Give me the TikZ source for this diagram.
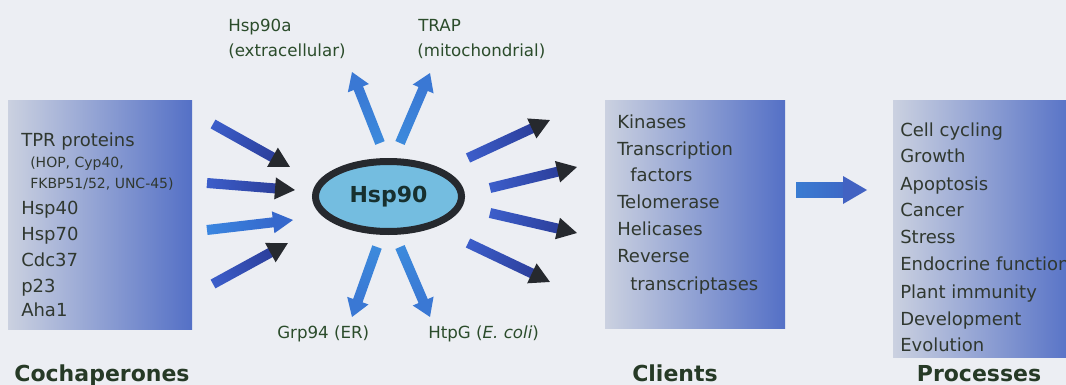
\documentclass[tikz,border=0pt]{standalone}
\usepackage{fontspec}
\setmainfont{DejaVu Sans}
\usetikzlibrary{shapes.geometric}

\definecolor{bg}{HTML}{ECEEF3}
\definecolor{panelL}{HTML}{CBD1E0}
\definecolor{panelM}{HTML}{9FAEDA}
\definecolor{panelR}{HTML}{5470C6}
\definecolor{ink}{HTML}{303830}
\definecolor{headink}{HTML}{263A26}
\definecolor{royalA}{HTML}{3C5ECA}
\definecolor{royalB}{HTML}{2C3F9C}
\definecolor{tipdark}{HTML}{26292E}
\definecolor{skyA}{HTML}{3C8ADC}
\definecolor{skyB}{HTML}{3A78D4}
\definecolor{midA}{HTML}{3A86E0}
\definecolor{midB}{HTML}{3568CC}
\definecolor{bigA}{HTML}{3A7CD2}
\definecolor{bigB}{HTML}{3D68C6}
\definecolor{bighead}{HTML}{4262C2}
\definecolor{hspfill}{HTML}{74BDE0}
\definecolor{hspink}{HTML}{17302F}

% Block arrow from coordinate #1 to coordinate #2:
% #3 shaft style, #4 head style, #5 shaft width, #6 head width, #7 head length
\newcommand\blockarrow[7]{%
  \pgfpointanchor{#1}{center}\pgfgetlastxy{\bax}{\bay}%
  \pgfpointanchor{#2}{center}\pgfgetlastxy{\bbx}{\bby}%
  \pgfmathsetmacro\bang{atan2(\bby-\bay,\bbx-\bax)}%
  \pgfmathsetmacro\blen{veclen(\bbx-\bax,\bby-\bay)}%
  \begin{scope}[transform canvas={shift={(\bax,\bay)},rotate=\bang}]
    \shade[#3] (0pt,-#5/2) rectangle (\blen pt-#7+0.6pt,#5/2);
    \fill[#4] (\blen pt-#7,-#6/2) -- (\blen pt,0pt) -- (\blen pt-#7,#6/2) -- cycle;
  \end{scope}}

\tikzset{
  panel/.style={rectangle, inner sep=0pt, draw=none,
    left color=panelL, middle color=panelM, right color=panelR},
  txt/.style={anchor=base west, inner sep=0pt, text=ink,
    font=\fontsize{13.5}{16}\selectfont},
  small/.style={anchor=base west, inner sep=0pt, text=ink,
    font=\fontsize{10.5}{13}\selectfont},
  lbl/.style={anchor=base west, inner sep=0pt, text=ink!90!green,
    font=\fontsize{12.5}{15}\selectfont},
  heading/.style={anchor=base, inner sep=0pt, text=headink,
    font=\bfseries\fontsize{16.5}{19}\selectfont},
  royalshaft/.style={left color=royalA, right color=royalB},
  darktip/.style={fill=tipdark},
  midshaft/.style={left color=midA, right color=midB},
  midtip/.style={fill=midB},
  skyshaft/.style={left color=skyA, right color=skyB},
  skytip/.style={fill=skyB},
  bigshaft/.style={left color=bigA, right color=bigB},
  bigtip/.style={fill=bighead},
}

\begin{document}
\begin{tikzpicture}[x=0.75pt,y=-0.75pt]
\path[use as bounding box] (0,0) rectangle (1066,385);
\clip (0,0) rectangle (1066,385);
\fill[bg] (0,0) rectangle (1066,385);

% panels
\node[panel, minimum width=138pt, minimum height=171.75pt] (cochap) at (100,214.5) {};
\node[panel, minimum width=135pt, minimum height=171pt] (clients) at (695,214) {};
\node[panel, minimum width=136.5pt, minimum height=192.75pt] (procs) at (984,228.5) {};

% cochaperones
\node[txt] (c1) at (21,146) {TPR proteins};
\node[small] (c1a) at (30,167) {(HOP, Cyp40,};
\node[small] (c1b) at (30,188) {FKBP51/52, UNC-45)};
\node[txt] (c2) at (21,214) {Hsp40};
\node[txt] (c3) at (21,240) {Hsp70};
\node[txt] (c4) at (21,266) {Cdc37};
\node[txt] (c5) at (21,292) {p23};
\node[txt] (c6) at (21,316) {Aha1};

% clients
\node[txt] (k1) at (617,128) {Kinases};
\node[txt] (k2) at (617,155) {Transcription};
\node[txt] (k3) at (630,181) {factors};
\node[txt] (k4) at (617,208) {Telomerase};
\node[txt] (k5) at (617,235) {Helicases};
\node[txt] (k6) at (617,262) {Reverse};
\node[txt] (k7) at (630,290) {transcriptases};

% processes
\node[txt] (p1) at (900,136) {Cell cycling};
\node[txt] (p2) at (900,162) {Growth};
\node[txt] (p3) at (900,190) {Apoptosis};
\node[txt] (p4) at (900,216) {Cancer};
\node[txt] (p5) at (900,243) {Stress};
\node[txt] (p6) at (900,270) {Endocrine function};
\node[txt] (p7) at (900,298) {Plant immunity};
\node[txt] (p8) at (900,325) {Development};
\node[txt] (p9) at (900,351) {Evolution};

% headings
\node[heading] (hc) at (102,381) {Cochaperones};
\node[heading] (hk) at (675,381) {Clients};
\node[heading] (hp) at (979,381) {Processes};

% Hsp90 and its compartment forms
\node[ellipse, draw=tipdark, line width=5.25pt, fill=hspfill, inner sep=0pt,
      minimum width=109.5pt, minimum height=52.5pt, text=hspink,
      font=\bfseries\fontsize{16.5}{20}\selectfont] (hsp) at (388.5,196.5) {Hsp90};

\node[lbl] (ta) at (228,32) {Hsp90a};
\node[lbl] (tb) at (228,57) {(extracellular)};
\node[lbl] (tc) at (418,32) {TRAP};
\node[lbl] (td) at (417,57) {(mitochondrial)};
\node[lbl] (ba) at (277,338) {Grp94 (ER)};
\node[lbl] (bb) at (428,338) {HtpG (\textit{E. coli})};

% arrow end points
\coordinate (l1s) at (213,124); \coordinate (l1e) at (290,167);
\coordinate (l2s) at (207,183); \coordinate (l2e) at (295,190);
\coordinate (l3s) at (207,230); \coordinate (l3e) at (293,220);
\coordinate (l4s) at (213,284); \coordinate (l4e) at (288,243);
\coordinate (t1s) at (380,143); \coordinate (t1e) at (352,72);
\coordinate (t2s) at (400,143); \coordinate (t2e) at (430,73);
\coordinate (b1s) at (377,247); \coordinate (b1e) at (352,317);
\coordinate (b2s) at (400,247); \coordinate (b2e) at (430,317);
\coordinate (r1s) at (468,158); \coordinate (r1e) at (550,120);
\coordinate (r2s) at (490,188); \coordinate (r2e) at (577,167);
\coordinate (r3s) at (490,213); \coordinate (r3e) at (577,233);
\coordinate (r4s) at (468,243); \coordinate (r4e) at (550,282);
\coordinate (gs) at (796,190);  \coordinate (ge) at (867,190);

% cochaperones into Hsp90
\blockarrow{l1s}{l1e}{royalshaft}{darktip}{7.5pt}{16.5pt}{15pt}
\blockarrow{l2s}{l2e}{royalshaft}{darktip}{7.5pt}{16.5pt}{15pt}
\blockarrow{l3s}{l3e}{midshaft}{midtip}{7.5pt}{16.5pt}{15pt}
\blockarrow{l4s}{l4e}{royalshaft}{darktip}{7.5pt}{16.5pt}{15pt}
% compartment forms
\blockarrow{t1s}{t1e}{skyshaft}{skytip}{7.5pt}{17pt}{13pt}
\blockarrow{t2s}{t2e}{skyshaft}{skytip}{7.5pt}{17pt}{13pt}
\blockarrow{b1s}{b1e}{skyshaft}{skytip}{7.5pt}{17pt}{13pt}
\blockarrow{b2s}{b2e}{skyshaft}{skytip}{7.5pt}{17pt}{13pt}
% Hsp90 to clients
\blockarrow{r1s}{r1e}{royalshaft}{darktip}{7.5pt}{16.5pt}{15pt}
\blockarrow{r2s}{r2e}{royalshaft}{darktip}{7.5pt}{16.5pt}{15pt}
\blockarrow{r3s}{r3e}{royalshaft}{darktip}{7.5pt}{16.5pt}{15pt}
\blockarrow{r4s}{r4e}{royalshaft}{darktip}{7.5pt}{16.5pt}{15pt}
% clients to processes
\blockarrow{gs}{ge}{bigshaft}{bigtip}{11.25pt}{21pt}{18pt}
\end{tikzpicture}
\end{document}
